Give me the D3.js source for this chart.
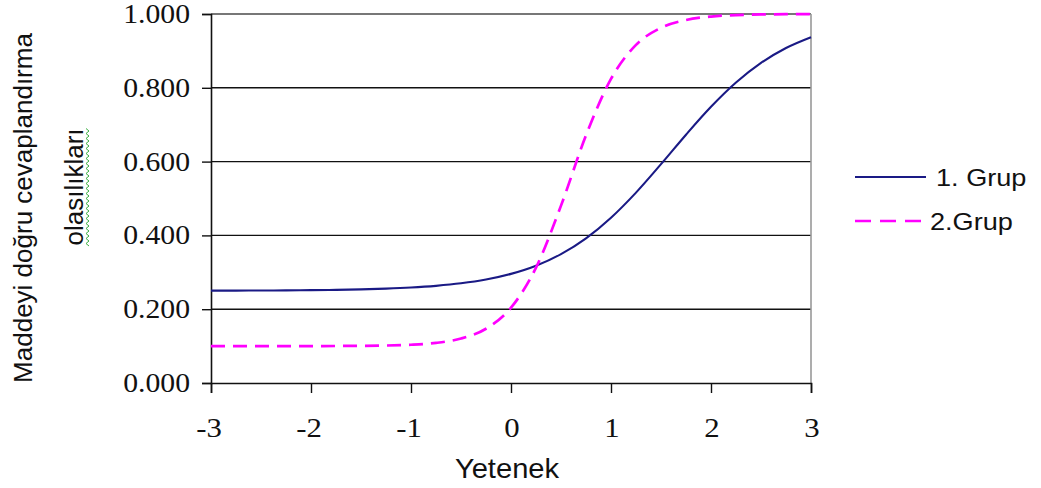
<!DOCTYPE html>
<html><head><meta charset="utf-8">
<script src="https://cdn.jsdelivr.net/npm/d3@7"></script>
<style>body{margin:0;background:#fff}svg{display:block}</style>
</head><body>
<script>
const theta = [-3,-2.75,-2.5,-2.25,-2,-1.75,-1.5,-1.25,-1,-0.75,-0.5,-0.25,0,0.25,0.5,0.75,1,1.25,1.5,1.75,2,2.25,2.5,2.75,3];
const grup1 = [0.2503,0.2504,0.2507,0.2510,0.2516,0.2524,0.2537,0.2557,0.2587,0.2633,0.2701,0.2804,0.2957,0.3178,0.3492,0.3920,0.4479,0.5160,0.5930,0.6729,0.7485,0.8143,0.8675,0.9080,0.9373];
const grup2 = [0.1000,0.1000,0.1000,0.1000,0.1001,0.1003,0.1007,0.1016,0.1037,0.1087,0.1205,0.1470,0.2040,0.3127,0.4807,0.6711,0.8241,0.9163,0.9627,0.9838,0.9931,0.9971,0.9988,0.9995,0.9998];
const xTicks = [-3,-2,-1,0,1,2,3];
const yTicks = [0,0.2,0.4,0.6,0.8,1.0];
const seriesNames = ["1. Grup","2.Grup"];

const W=1041,H=488;
const svg=d3.select("body").append("svg").attr("width",W).attr("height",H);
const x=d3.scaleLinear().domain([-3,3]).range([211,811]);
const y=d3.scaleLinear().domain([0,1]).range([383,14]);

const serif="'Liberation Serif','Times New Roman',serif";
const sans="'Liberation Sans',Arial,sans-serif";
const ink="#111";

// gridlines
svg.append("g").selectAll("line").data(yTicks.filter(d=>d>0)).join("line")
  .attr("x1",x(-3)).attr("x2",x(3)).attr("y1",d=>y(d)).attr("y2",d=>y(d))
  .attr("stroke",d=>d===1?"#777":"#111").attr("stroke-width",d=>d===1?1.8:1.4);
// right border
svg.append("line").attr("x1",x(3)).attr("x2",x(3)).attr("y1",y(1)).attr("y2",y(0))
  .attr("stroke","#999").attr("stroke-width",1.6);

const ya=svg.append("g").attr("transform",`translate(${x(-3)},0)`)
  .call(d3.axisLeft(y).tickValues(yTicks).tickFormat("").tickSize(9));
ya.select(".domain").attr("stroke",ink).attr("stroke-width",1.6);
ya.selectAll(".tick line").attr("stroke",ink).attr("stroke-width",1.4);

const xa=svg.append("g").attr("transform",`translate(0,${y(0)})`)
  .call(d3.axisBottom(x).tickValues(xTicks).tickFormat("").tickSize(10));
xa.select(".domain").attr("stroke",ink).attr("stroke-width",1.6);
xa.selectAll(".tick line").attr("stroke",ink).attr("stroke-width",1.4);

// tick labels (slightly wide serif as in the reference)
const fmtY=d3.format(".3f");
svg.append("g").selectAll("text").data(yTicks).join("text")
  .attr("transform",d=>`translate(${x(-3)-21},${y(d)+9}) scale(1.1,1)`)
  .attr("text-anchor","end").attr("font-family",serif).attr("font-size",27).attr("fill",ink)
  .text(d=>fmtY(d));
svg.append("g").selectAll("text").data(xTicks).join("text")
  .attr("transform",d=>`translate(${x(d)+(d<0?-2:1)},437) scale(1.1,1)`)
  .attr("text-anchor","middle").attr("font-family",serif).attr("font-size",28).attr("fill",ink)
  .text(d=>d<0?"-"+Math.abs(d):String(d));

const line=d3.line().x((d,i)=>x(theta[i])).y(d=>y(d)).curve(d3.curveMonotoneX);
svg.append("path").datum(grup1).attr("d",line).attr("fill","none")
  .attr("stroke","#1a1a85").attr("stroke-width",2.1);
svg.append("path").datum(grup2).attr("d",line).attr("fill","none")
  .attr("stroke","#ff00ff").attr("stroke-width",2.7).attr("stroke-dasharray","14,8");

// legend
const leg=svg.append("g");
const ly=[177,221];
leg.append("line").attr("x1",855).attr("x2",926).attr("y1",ly[0]).attr("y2",ly[0])
  .attr("stroke","#1a1a85").attr("stroke-width",2.1);
leg.append("line").attr("x1",855).attr("x2",926).attr("y1",ly[1]).attr("y2",ly[1])
  .attr("stroke","#ff00ff").attr("stroke-width",2.7).attr("stroke-dasharray","16,9");
leg.selectAll("text").data(seriesNames).join("text")
  .attr("transform",(d,i)=>`translate(${i===0?936:930},${ly[i]+9}) scale(1.13,1)`)
  .attr("font-family",sans).attr("font-size",24).attr("fill",ink).text(d=>d);

// axis titles
svg.append("text").attr("transform","translate(507,478) scale(1.04,1)").attr("text-anchor","middle")
  .attr("font-family",sans).attr("font-size",28).attr("fill",ink).text("Yetenek");
svg.append("text").attr("transform","translate(32,208) rotate(-90)").attr("text-anchor","middle")
  .attr("font-family",sans).attr("font-size",26).attr("fill",ink).text("Maddeyi doğru cevaplandırma");
svg.append("text").attr("transform","translate(83,187) rotate(-90)").attr("text-anchor","middle")
  .attr("font-family",sans).attr("font-size",26).attr("fill",ink).text("olasılıkları");
// spell-check wavy underline
const wv=[];for(let yy=246;yy>=128;yy-=2.5){wv.push([(wv.length%2?86:89), yy]);}
svg.append("path").attr("d",d3.line()(wv)).attr("fill","none").attr("stroke","#3cb043").attr("stroke-width",1);
</script>
</body></html>
